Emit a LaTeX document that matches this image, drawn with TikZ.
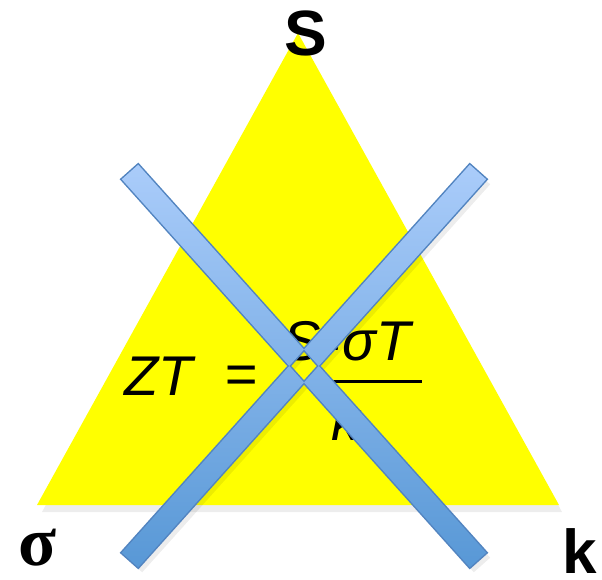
\documentclass[tikz,border=0pt]{standalone}
\usepackage{fontspec}
\setmainfont{Liberation Sans}
\newfontfamily\timesfont{Liberation Serif}
\definecolor{triYellow}{RGB}{255,255,0}
\definecolor{barTop}{RGB}{170,204,250}
\definecolor{barBot}{RGB}{88,152,214}
\definecolor{barEdge}{RGB}{82,132,192}

\begin{document}
\begin{tikzpicture}[x=1pt,y=-1pt,
		eqtext/.style={inner sep=0pt, font=\fontsize{56}{60}\selectfont\itshape},
		cornerlbl/.style={inner sep=0pt, font=\fontsize{64}{68}\selectfont\bfseries},
		softshadow/.style={fill=black, opacity=0.07}]
		\useasboundingbox (0,0) rectangle (602,579);
		% triangle
		\fill[softshadow] (300,40) -- (42,512) -- (562,512) -- cycle;
		\fill[triYellow] (298,33) -- (37,505) -- (559,505) -- cycle;
		% formula
		\node[eqtext, anchor=base west] (zt) at (124,395) {ZT};
		\node[eqtext, anchor=center] (eq) at (241,380) {=};
		\node[eqtext, anchor=base west] (num) at (283,360) {S\textsuperscript{2}σT};
		\node[eqtext, anchor=base west] (den) at (331,440) {k};
		\coordinate (rule-l) at (333,381);
		\coordinate (rule-r) at (422,381);
		\draw[line width=3pt] (rule-l) -- (rule-r);
		% crossed bars
		\fill[softshadow] (142.2,169.7) -- (490.2,557.7) -- (473.8,572.3) -- (125.8,184.3) -- cycle
			(490.2,184.3) -- (473.8,169.7) -- (125.8,557.7) -- (142.2,572.3) -- cycle;
		\draw[barEdge, line width=3pt, line join=miter] (138.2,164.7) -- (486.2,552.7) -- (469.8,567.3) -- (121.8,179.3) -- cycle
			(486.2,179.3) -- (469.8,164.7) -- (121.8,552.7) -- (138.2,567.3) -- cycle;
		\shade[top color=barTop, bottom color=barBot] (138.2,164.7) -- (486.2,552.7) -- (469.8,567.3) -- (121.8,179.3) -- cycle
			(486.2,179.3) -- (469.8,164.7) -- (121.8,552.7) -- (138.2,567.3) -- cycle;
		% corner labels
		\node[cornerlbl, anchor=base] (s) at (306,55) {S};
		\node[inner sep=0pt, anchor=base west, font=\fontsize{70}{74}\selectfont\timesfont\bfseries] (sigma) at (18,565) {σ};
		\node[cornerlbl, anchor=base west, font=\fontsize{62}{66}\selectfont\bfseries] (k) at (562,573) {k};
	\end{tikzpicture}
\end{document}
